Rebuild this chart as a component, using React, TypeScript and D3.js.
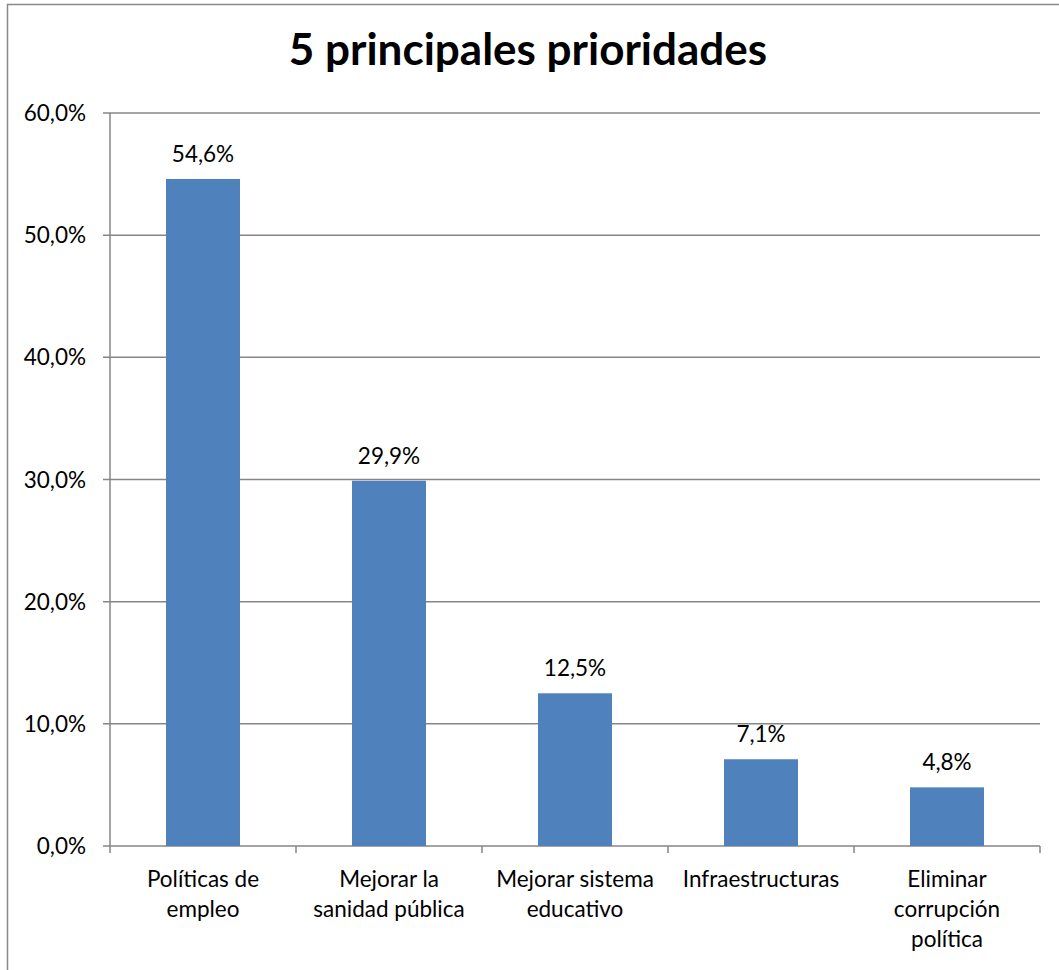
import React from "react";
import * as d3 from "d3";

const categories: string[][] = [
  ["Políticas de", "empleo"],
  ["Mejorar la", "sanidad pública"],
  ["Mejorar sistema", "educativo"],
  ["Infraestructuras"],
  ["Eliminar", "corrupción", "política"],
];
const values: number[] = [54.6, 29.9, 12.5, 7.1, 4.8];
const yTicks: number[] = [0, 10, 20, 30, 40, 50, 60];
const title = "5 principales prioridades";

const W = 1059;
const H = 970;
const FONT = "Lato, 'Open Sans', sans-serif";
const FS = 22.5;

export default function App() {
  const left = 110, right = 1040, top = 113, bottom = 846;
  const x = d3.scaleBand<number>().domain(d3.range(values.length)).range([left, right]).paddingInner(0).paddingOuter(0);
  const y = d3.scaleLinear().domain([0, 60]).range([bottom, top]);
  const fmt = (v: number) => v.toFixed(1).replace(".", ",") + "%";
  const bw = 74;
  return (
    <svg width={W} height={H} style={{ position: "absolute", left: 0, top: 0, background: "#fff" }}>
      <rect x={7.5} y={4.5} width={1060} height={1000} fill="#fff" stroke="#898989" strokeWidth={1.5} />
      <text x={528} y={65} textAnchor="middle" fontFamily={FONT} fontWeight="bold" fontSize={44} fill="#000">{title}</text>
      {yTicks.map((t) => (
        <g key={t}>
          <line x1={103} x2={right} y1={y(t)} y2={y(t)} stroke="#868686" strokeWidth={1.5} />
          <text x={86} y={y(t) + 8} textAnchor="end" fontFamily={FONT} fontSize={FS} fill="#000">{fmt(t)}</text>
        </g>
      ))}
      <line x1={left} x2={left} y1={top} y2={bottom} stroke="#868686" strokeWidth={1.5} />
      {d3.range(values.length + 1).map((i) => {
        const px = i < values.length ? (x(i) as number) : right;
        return <line key={i} x1={px} x2={px} y1={bottom} y2={bottom + 7} stroke="#868686" strokeWidth={1.5} />;
      })}
      {values.map((v, i) => {
        const cx = (x(i) as number) + x.bandwidth() / 2;
        return (
          <g key={i}>
            <rect x={cx - bw / 2} y={y(v)} width={bw} height={bottom - y(v)} fill="#4F81BD" />
            <text x={cx} y={y(v) - 17} textAnchor="middle" fontFamily={FONT} fontSize={FS} fill="#000">{fmt(v)}</text>
            {categories[i].map((line, j) => (
              <text key={j} x={cx} y={887 + j * 30} textAnchor="middle" fontFamily={FONT} fontSize={FS} fill="#000">{line}</text>
            ))}
          </g>
        );
      })}
    </svg>
  );
}
